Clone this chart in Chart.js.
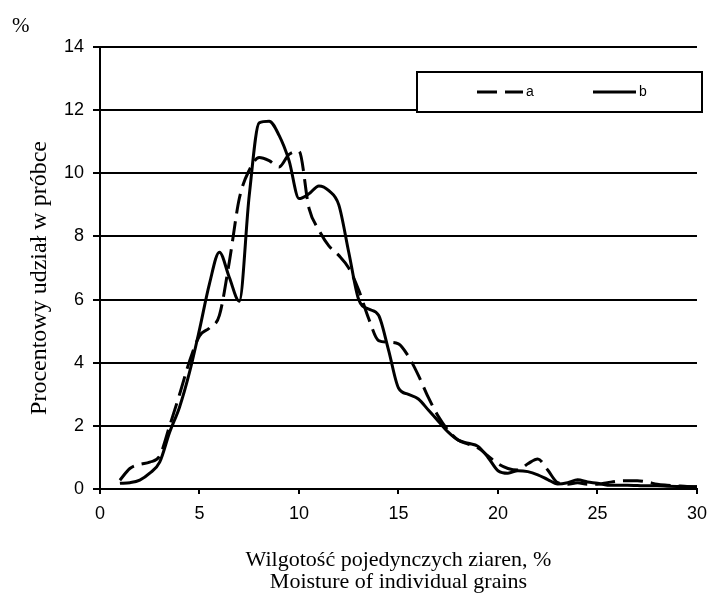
<!DOCTYPE html>
<html>
<head>
<meta charset="utf-8">
<script src="https://cdn.jsdelivr.net/npm/chart.js@4"></script>
<style>
  html, body { margin: 0; padding: 0; background: #fff; }
  #wrap { width: 716px; height: 605px; position: relative; }
</style>
</head>
<body>
<div id="wrap"><canvas id="moistureChart"></canvas></div>
<script>
// moisture of individual grains, % (x axis)
const moisture = [1, 1.5, 2, 2.5, 3, 3.5, 4, 4.5, 5, 5.5, 6, 6.5, 7, 7.5, 8, 8.5, 9, 9.5, 10, 10.5,
  11, 11.5, 12, 12.5, 13, 13.5, 14, 14.5, 15, 15.5, 16, 16.5, 17, 17.5, 18, 18.5, 19, 19.5, 20, 20.5,
  21, 21.5, 22, 22.5, 23, 23.5, 24, 24.5, 25, 25.5, 26, 26.5, 27, 27.5, 28, 28.5, 29, 29.5, 30];

// share in sample, %
const seriesA = [0.28, 0.65, 0.78, 0.85, 1.05, 2.0, 3.0, 4.05, 4.85, 5.1, 5.5, 7.2, 9.2, 10.1, 10.5, 10.4, 10.2, 10.6, 10.7, 8.9,
  8.2, 7.7, 7.4, 7.0, 6.3, 5.4, 4.7, 4.65, 4.6, 4.2, 3.6, 2.9, 2.3, 1.85, 1.55, 1.42, 1.3, 1.05, 0.8, 0.65,
  0.6, 0.8, 0.95, 0.6, 0.2, 0.15, 0.2, 0.15, 0.15, 0.2, 0.25, 0.26, 0.26, 0.22, 0.15, 0.12, 0.1, 0.08, 0.07];

const seriesB = [0.18, 0.2, 0.28, 0.5, 0.85, 1.8, 2.6, 3.7, 5.05, 6.5, 7.5, 6.7, 5.95, 9.3, 11.6, 11.65, 11.2, 10.4, 9.2, 9.35,
  9.6, 9.45, 9.0, 7.5, 6.0, 5.7, 5.5, 4.4, 3.2, 3.0, 2.85, 2.5, 2.15, 1.8, 1.55, 1.45, 1.35, 1.0, 0.58, 0.5,
  0.58, 0.55, 0.45, 0.3, 0.16, 0.2, 0.29, 0.22, 0.18, 0.12, 0.12, 0.12, 0.11, 0.1, 0.1, 0.09, 0.08, 0.07, 0.07];

const seriesLabels = ['a', 'b'];
const yTicks = [0, 2, 4, 6, 8, 10, 12, 14];
const xTicks = [0, 5, 10, 15, 20, 25, 30];

const yTitle = 'Procentowy udział w próbce';
const xTitle = ['Wilgotość pojedynczych ziaren, %', 'Moisture of individual grains'];
const unitLabel = '%';

function toPoints(values) {
  return values.map((v, i) => ({ x: moisture[i], y: v }));
}

// texts and the boxed legend drawn on top of the chart
const extrasPlugin = {
  id: 'extras',
  afterDraw(chart) {
    const ctx = chart.ctx;
    const area = chart.chartArea;
    const serif = '"Liberation Serif", "Times New Roman", serif';
    ctx.save();
    ctx.fillStyle = '#000';

    ctx.font = '21px ' + serif;
    ctx.textAlign = 'left';
    ctx.textBaseline = 'middle';
    ctx.fillText(unitLabel, 12, 26);

    ctx.save();
    ctx.font = '24px ' + serif;
    ctx.translate(40, 278);
    ctx.rotate(-Math.PI / 2);
    ctx.textAlign = 'center';
    ctx.fillText(yTitle, 0, 0);
    ctx.restore();

    ctx.font = '22px ' + serif;
    ctx.textAlign = 'center';
    const cx = (area.left + area.right) / 2;
    ctx.fillText(xTitle[0], cx, 560);
    ctx.fillText(xTitle[1], cx, 582);

    // legend box
    ctx.fillStyle = '#fff';
    ctx.fillRect(417, 72, 285, 40);
    ctx.strokeStyle = '#000';
    ctx.lineWidth = 2;
    ctx.strokeRect(417, 72, 285, 40);

    const entries = [{ x0: 477, x1: 523 }, { x0: 593, x1: 636 }];
    chart.data.datasets.forEach((ds, i) => {
      const e = entries[i];
      ctx.beginPath();
      ctx.setLineDash(ds.borderDash || []);
      ctx.lineWidth = ds.borderWidth;
      ctx.strokeStyle = ds.borderColor;
      ctx.moveTo(e.x0, 92);
      ctx.lineTo(e.x1, 92);
      ctx.stroke();
      ctx.setLineDash([]);
      ctx.fillStyle = '#000';
      ctx.font = '14px "Liberation Sans", Arial, sans-serif';
      ctx.textAlign = 'left';
      ctx.fillText(ds.label, e.x1 + 3, 92);
    });
    ctx.restore();
  }
};

new Chart(document.getElementById('moistureChart'), {
  type: 'line',
  data: {
    datasets: [{
      label: seriesLabels[0],
      data: toPoints(seriesA),
      borderColor: '#000',
      borderWidth: 3,
      borderDash: [20, 8],
      pointRadius: 0,
      fill: false,
      cubicInterpolationMode: 'monotone'
    }, {
      label: seriesLabels[1],
      data: toPoints(seriesB),
      borderColor: '#000',
      borderWidth: 3,
      pointRadius: 0,
      fill: false,
      cubicInterpolationMode: 'monotone'
    }]
  },
  options: {
    responsive: true,
    maintainAspectRatio: false,
    animation: false,
    layout: { padding: { top: 47, right: 13, left: 0, bottom: 0 } },
    plugins: {
      legend: { display: false },
      tooltip: { enabled: false }
    },
    scales: {
      x: {
        type: 'linear',
        min: 0,
        max: 30,
        afterBuildTicks: axis => { axis.ticks = xTicks.map(v => ({ value: v })); },
        afterFit: axis => { axis.height = 116; },
        grid: { drawOnChartArea: false, color: '#000', lineWidth: 2, tickLength: 5 },
        border: { display: true, color: '#000', width: 2 },
        ticks: { color: '#000', padding: 9, maxRotation: 0, font: { family: '"Liberation Sans", Arial, sans-serif', size: 18 } }
      },
      y: {
        min: 0,
        max: 14,
        afterBuildTicks: axis => { axis.ticks = yTicks.map(v => ({ value: v })); },
        afterFit: axis => { axis.width = 100; },
        grid: { color: '#000', lineWidth: 2, tickLength: 7 },
        border: { display: true, color: '#000', width: 2 },
        ticks: { color: '#000', padding: 9, font: { family: '"Liberation Sans", Arial, sans-serif', size: 18 } }
      }
    }
  },
  plugins: [extrasPlugin]
});
</script>
</body>
</html>
